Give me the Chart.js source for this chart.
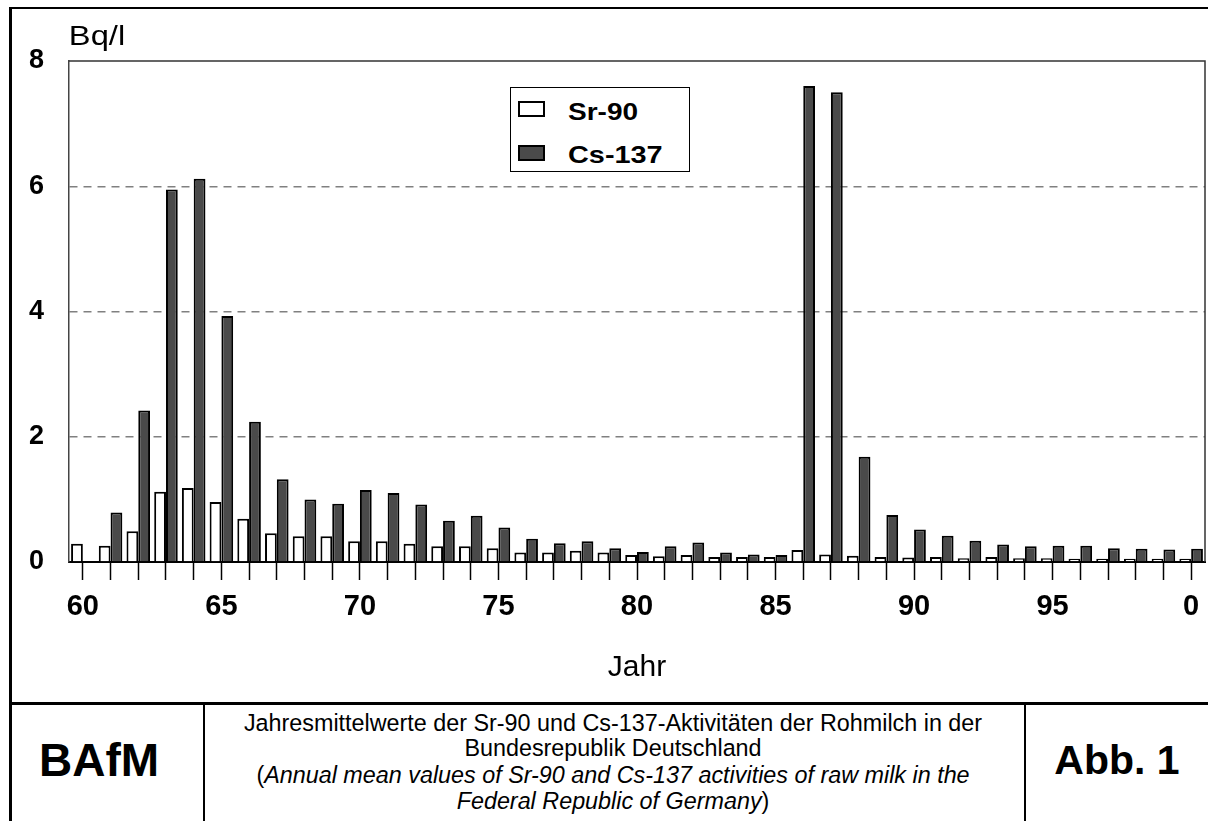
<!DOCTYPE html>
<html>
<head>
<meta charset="utf-8">
<script src="https://cdn.jsdelivr.net/npm/chart.js@4.4.1/dist/chart.umd.min.js"></script>
<style>
  html, body { margin: 0; padding: 0; background: #fff; }
  body { width: 1208px; height: 821px; position: relative; overflow: hidden;
         font-family: "Liberation Sans", Arial, Helvetica, sans-serif; color: #000; }
  #wrap { position: absolute; left: 0; top: 0; width: 1208px; height: 700px; }
  .rule { position: absolute; background: #000; }
  .txt { position: absolute; white-space: nowrap; line-height: 1; }
  .legend { position: absolute; left: 510px; top: 87px; width: 180px; height: 85px;
            border: 1.5px solid #000; background: #fff; box-sizing: border-box; }
  .sw { position: absolute; width: 27px; height: 16px; box-sizing: border-box; border: 2px solid #000; }
</style>
</head>
<body>
<div id="wrap"><canvas id="chart"></canvas></div>

<!-- outer frame and caption table -->
<div class="rule" style="left:10px;top:7px;width:1198px;height:2px;"></div>
<div class="rule" style="left:9px;top:7px;width:3px;height:814px;"></div>
<div class="rule" style="left:9px;top:702px;width:1199px;height:3px;"></div>
<div class="rule" style="left:203px;top:702px;width:2px;height:119px;"></div>
<div class="rule" style="left:1024px;top:702px;width:2px;height:119px;"></div>

<div class="txt" id="unit" style="font-size:28px;">Bq/l</div>
<div class="txt" id="xtitle" style="font-size:30px;">Jahr</div>

<div class="legend" id="legend"></div>

<div class="txt" id="org" style="font-size:46px;font-weight:bold;">BAfM</div>
<div class="txt" id="fig" style="font-size:41px;font-weight:bold;">Abb. 1</div>
<div class="txt cap" id="cap1" style="font-size:18px;">Jahresmittelwerte der Sr-90 und Cs-137-Aktivitäten der Rohmilch in der</div>
<div class="txt cap" id="cap2" style="font-size:18px;">Bundesrepublik Deutschland</div>
<div class="txt cap" id="cap3" style="font-size:18px;">(<i>Annual mean values of Sr-90 and Cs-137 activities of raw milk in the</i></div>
<div class="txt cap" id="cap4" style="font-size:18px;"><i>Federal Republic of Germany</i>)</div>

<script>
// Annual means, Bq/l, 1960-2000
const years = ['1960','1961','1962','1963','1964','1965','1966','1967','1968','1969',
               '1970','1971','1972','1973','1974','1975','1976','1977','1978','1979',
               '1980','1981','1982','1983','1984','1985','1986','1987','1988','1989',
               '1990','1991','1992','1993','1994','1995','1996','1997','1998','1999','2000'];

const sr90 = [0.29, 0.26, 0.49, 1.12, 1.18, 0.96, 0.69, 0.46, 0.41, 0.41,
              0.33, 0.33, 0.29, 0.25, 0.25, 0.22, 0.15, 0.15, 0.18, 0.15,
              0.11, 0.09, 0.11, 0.08, 0.08, 0.08, 0.19, 0.12, 0.10, 0.08,
              0.07, 0.08, 0.06, 0.08, 0.06, 0.06, 0.05, 0.05, 0.05, 0.05, 0.05];

const cs137 = [null, 0.79, 2.42, 5.95, 6.12, 3.93, 2.24, 1.32, 1.00, 0.93,
               1.15, 1.10, 0.92, 0.66, 0.74, 0.55, 0.37, 0.30, 0.33, 0.22,
               0.16, 0.25, 0.31, 0.15, 0.12, 0.11, 7.60, 7.50, 1.68, 0.75,
               0.52, 0.42, 0.34, 0.28, 0.25, 0.26, 0.26, 0.22, 0.21, 0.20, 0.21];

const seriesNames = ['Sr-90', 'Cs-137'];
const tickYears  = ['1960','1965','1970','1975','1980','1985','1990','1995','2000'];
const tickLabels = ['60','65','70','75','80','85','90','95','0'];
const yTicks = [0, 2, 4, 6, 8];

const FONT = '"Liberation Sans", Arial, Helvetica, sans-serif';

// top and right edge of the plotting box
const plotFrame = {
  id: 'plotFrame',
  afterDraw(chart) {
    const {ctx, chartArea: a} = chart;
    ctx.save();
    ctx.strokeStyle = '#333';
    ctx.lineWidth = 1.5;
    ctx.beginPath();
    ctx.moveTo(a.left, a.top);
    ctx.lineTo(a.right, a.top);
    ctx.lineTo(a.right, a.bottom);
    ctx.stroke();
    ctx.restore();
  }
};

const chart = new Chart(document.getElementById('chart'), {
  type: 'bar',
  data: {
    labels: years,
    datasets: [
      { label: seriesNames[0], data: sr90, backgroundColor: '#ffffff',
        borderColor: '#000000', borderWidth: 2 },
      { label: seriesNames[1], data: cs137, backgroundColor: '#4a4a4a',
        borderColor: '#000000', borderWidth: 2 }
    ]
  },
  options: {
    responsive: true,
    maintainAspectRatio: false,
    animation: false,
    events: [],
    layout: { padding: { top: 61, right: 3, left: 0, bottom: 0 } },
    datasets: { bar: { categoryPercentage: 0.85, barPercentage: 1.0 } },
    plugins: { legend: { display: false }, tooltip: { enabled: false } },
    scales: {
      x: {
        z: 1,
        grid: { offset: false, drawOnChartArea: false, drawTicks: true,
                tickLength: 18, tickColor: '#000', tickWidth: 1.5 },
        border: { display: true, color: '#000', width: 2 },
        ticks: {
          autoSkip: false, maxRotation: 0, minRotation: 0, padding: 10,
          color: '#000', font: { family: FONT, size: 29, weight: 'bold' },
          callback(value, index) {
            const k = tickYears.indexOf(years[index]);
            return k >= 0 ? tickLabels[k] : '';
          }
        },
        afterFit(scale) { scale.height = 138; scale.paddingLeft = 0; scale.paddingRight = 0; }
      },
      y: {
        min: yTicks[0], max: yTicks[yTicks.length - 1],
        grid: {
          drawTicks: false, lineWidth: 1.5,
          color: (c) => (c.tick && (c.tick.value === yTicks[0] || c.tick.value === yTicks[yTicks.length - 1]))
            ? 'rgba(0,0,0,0)' : '#808080'
        },
        border: { display: true, color: '#444', width: 1.5, dash: [8, 6] },
        ticks: {
          stepSize: 2, padding: 25, color: '#000',
          font: { family: FONT, size: 27, weight: 'bold' }
        },
        afterBuildTicks(scale) { scale.ticks = yTicks.map(v => ({ value: v })); },
        afterFit(scale) { scale.width = 69; scale.paddingTop = 0; scale.paddingBottom = 0; }
      }
    }
  },
  plugins: [plotFrame]
});

// legend built from the datasets
const legend = document.getElementById('legend');
chart.data.datasets.forEach((ds, i) => {
  const sw = document.createElement('div');
  sw.className = 'sw';
  sw.style.left = '7px';
  sw.style.top = (i === 0 ? 13 : 57) + 'px';
  sw.style.background = ds.backgroundColor;
  legend.appendChild(sw);
  const t = document.createElement('div');
  t.className = 'txt';
  t.id = 'leg' + i;
  t.textContent = ds.label;
  t.style.fontSize = '24px';
  t.style.fontWeight = 'bold';
  legend.appendChild(t);
});

// place a text by its centre, optionally stretched to a given width
function place(id, cx, cy, width, originLeft) {
  const el = document.getElementById(id);
  const w = el.offsetWidth;
  const s = width ? width / w : 1;
  el.style.left = cx + 'px';
  el.style.top = cy + 'px';
  if (originLeft) {
    el.style.transformOrigin = '0 0';
    el.style.transform = 'translateY(-50%) scaleX(' + s + ')';
  } else {
    el.style.transform = 'translate(-50%,-50%) scaleX(' + s + ')';
  }
}

function layoutText() {
  place('unit', 97, 36, 56);
  place('xtitle', 637, 666, 0);
  place('leg0', 57, 24, 70, true);
  place('leg1', 57, 67, 95, true);
  place('org', 99, 760, 0);
  place('fig', 1117, 760, 0);
  // caption block: one common size so the first line spans ~738 px
  const caps = ['cap1', 'cap2', 'cap3', 'cap4'].map(id => document.getElementById(id));
  caps.forEach(el => { el.style.fontSize = '18px'; el.style.transform = 'none'; });
  const size = 18 * 738 / caps[0].offsetWidth;
  caps.forEach(el => { el.style.fontSize = size.toFixed(2) + 'px'; });
  [724, 749, 776, 802].forEach((y, k) => place(caps[k].id, 613, y, 0));
}
if (document.fonts && document.fonts.ready) document.fonts.ready.then(layoutText);
layoutText();
</script>
</body>
</html>
